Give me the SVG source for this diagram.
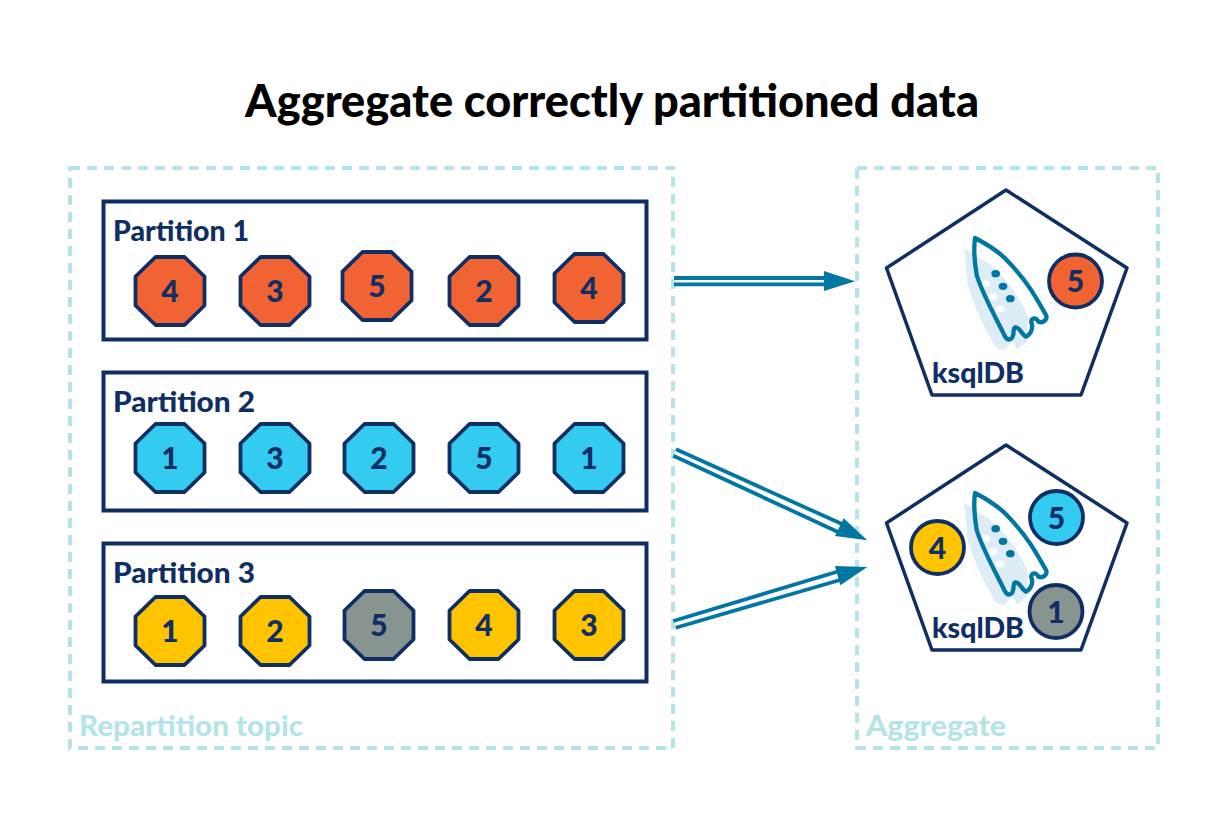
<svg xmlns="http://www.w3.org/2000/svg" width="1225" height="820" viewBox="0 0 1225 820">
<style>
text{font-family:"Lato","Noto Sans",sans-serif;font-weight:900;fill:#0f2f64}
.title{font-size:45px;fill:#000}
.plabel{font-size:28px}
.num{font-size:30px;text-anchor:middle}
.area{fill:none;stroke:#b5e4e8;stroke-width:4;stroke-dasharray:10 7}
.alabel{font-size:29px;fill:#b5e4e8}
.box{fill:#fff;stroke:#0f2f64;stroke-width:4}
.o{stroke:#0f2f64;stroke-width:3.800;stroke-linejoin:round}
.c{stroke:#0f2f64;stroke-width:3.800}
.r{fill:#f26333}.b{fill:#33cbf0}.y{fill:#ffc400}.g{fill:#87948f}
.pent{fill:#fff;stroke:#0f2f64;stroke-width:3.500;stroke-linejoin:round}
.ln{stroke:#0076a3;stroke-width:3.800;fill:none}
.hd{fill:#0076a3}
</style>
<defs>
<polygon id="oct" points="-14.5,-34 14.5,-34 34.5,-14.5 34.5,14.5 14.5,34 -14.5,34 -34.5,14.5 -34.5,-14.5"/>
<g id="rocket" transform="scale(.33333)">
<path d="M253,85 L325,130 Q400,190 445,290 L440,365 L412,388 L396,365 L375,388 Q355,392 345,378 Q290,290 262,190 Z" fill="#deedf5"/>
<ellipse cx="318" cy="191" rx="13" ry="10" fill="#fff"/><ellipse cx="339" cy="230" rx="13" ry="10" fill="#fff"/><ellipse cx="360" cy="267" rx="13" ry="10" fill="#fff"/>
<path d="M285,54 C320,72 350,92 372,112 C405,145 430,175 450,205 C470,235 485,262 498,285 C504,298 490,310 476,306 C468,290 452,292 454,308 C462,325 450,345 438,350 C425,345 420,320 405,322 C395,330 408,350 390,358 C380,362 375,350 368,335 C340,280 305,215 290,165 C284,130 281,85 285,54 Z" fill="none" stroke="#0076a3" stroke-width="13" stroke-linejoin="round"/>
<ellipse cx="347" cy="161" rx="13" ry="11" fill="#0076a3"/><ellipse cx="369" cy="199" rx="13" ry="11" fill="#0076a3"/><ellipse cx="391" cy="236" rx="13" ry="11" fill="#0076a3"/>
</g>
</defs>
<rect width="1225" height="820" fill="#fff"/>
<text class="title" x="245" y="117" textLength="734" lengthAdjust="spacingAndGlyphs">Aggregate correctly partitioned data</text>
<g id="repartition-topic"><rect class="area" x="70" y="168" width="603" height="580"/><text class="alabel" x="79" y="736" textLength="224" lengthAdjust="spacingAndGlyphs">Repartition topic</text></g>
<g id="aggregate"><rect class="area" x="857" y="168" width="301" height="580"/><text class="alabel" x="866" y="736" textLength="140" lengthAdjust="spacingAndGlyphs">Aggregate</text></g>
<g id="partition-1"><rect class="box" x="103.500" y="201.500" width="543" height="138"/><text class="plabel" x="113" y="241" textLength="136" lengthAdjust="spacingAndGlyphs">Partition 1</text>
<use href="#oct" class="o r" x="170" y="291"/><text class="num" x="170" y="302">4</text>
<use href="#oct" class="o r" x="275" y="291"/><text class="num" x="275" y="302">3</text>
<use href="#oct" class="o r" x="377" y="286"/><text class="num" x="377" y="297">5</text>
<use href="#oct" class="o r" x="484" y="291"/><text class="num" x="484" y="302">2</text>
<use href="#oct" class="o r" x="589" y="288"/><text class="num" x="589" y="299">4</text></g>
<g id="partition-2"><rect class="box" x="103.500" y="372.500" width="543" height="138"/><text class="plabel" x="113" y="412" textLength="142" lengthAdjust="spacingAndGlyphs">Partition 2</text>
<use href="#oct" class="o b" x="170" y="458"/><text class="num" x="170" y="469">1</text>
<use href="#oct" class="o b" x="275" y="458"/><text class="num" x="275" y="469">3</text>
<use href="#oct" class="o b" x="379" y="458"/><text class="num" x="379" y="469">2</text>
<use href="#oct" class="o b" x="484" y="458"/><text class="num" x="484" y="469">5</text>
<use href="#oct" class="o b" x="589" y="458"/><text class="num" x="589" y="469">1</text></g>
<g id="partition-3"><rect class="box" x="103.500" y="543.500" width="543" height="138"/><text class="plabel" x="113" y="583" textLength="142" lengthAdjust="spacingAndGlyphs">Partition 3</text>
<use href="#oct" class="o y" x="170" y="631"/><text class="num" x="170" y="642">1</text>
<use href="#oct" class="o y" x="275" y="631"/><text class="num" x="275" y="642">2</text>
<use href="#oct" class="o g" x="379" y="625"/><text class="num" x="379" y="636">5</text>
<use href="#oct" class="o y" x="484" y="625"/><text class="num" x="484" y="636">4</text>
<use href="#oct" class="o y" x="589" y="625"/><text class="num" x="589" y="636">3</text></g>
<g id="ksqldb-1"><polygon class="pent" points="1006,190 1127,268 1081,395 932,395 886.500,268"/>
<use href="#rocket" x="880" y="220"/>
<circle class="c r" cx="1075.500" cy="281" r="26.500"/><text class="num" x="1075.500" y="292">5</text>
<text class="plabel" x="932" y="383" textLength="92" lengthAdjust="spacingAndGlyphs">ksqlDB</text></g>
<g id="ksqldb-2"><polygon class="pent" points="1006,445 1127,523 1081,650 932,650 886.500,523"/>
<use href="#rocket" x="880" y="475"/>
<circle class="c b" cx="1056.500" cy="517.500" r="26.500"/><text class="num" x="1056.500" y="528.500">5</text>
<circle class="c y" cx="937.500" cy="547.500" r="26.500"/><text class="num" x="937.500" y="558.500">4</text>
<circle class="c g" cx="1056" cy="611.500" r="26.500"/><text class="num" x="1056" y="622.500">1</text>
<text class="plabel" x="932" y="638" textLength="92" lengthAdjust="spacingAndGlyphs">ksqlDB</text></g>
<g id="connectors">
<path class="ln" d="M674,278H826M674,284.300H826"/><polygon class="hd" points="824,271 855,281.300 824,291"/>
<path class="ln" d="M676,449.300L842,524M673.300,455.700L838,532"/><polygon class="hd" points="867.300,540.300 843.700,518.300 835,536"/>
<path class="ln" d="M673.300,621L838,571.500M675.700,627.700L840,580"/><polygon class="hd" points="867.300,567 835,566 840.300,585.300"/>
</g>
</svg>
